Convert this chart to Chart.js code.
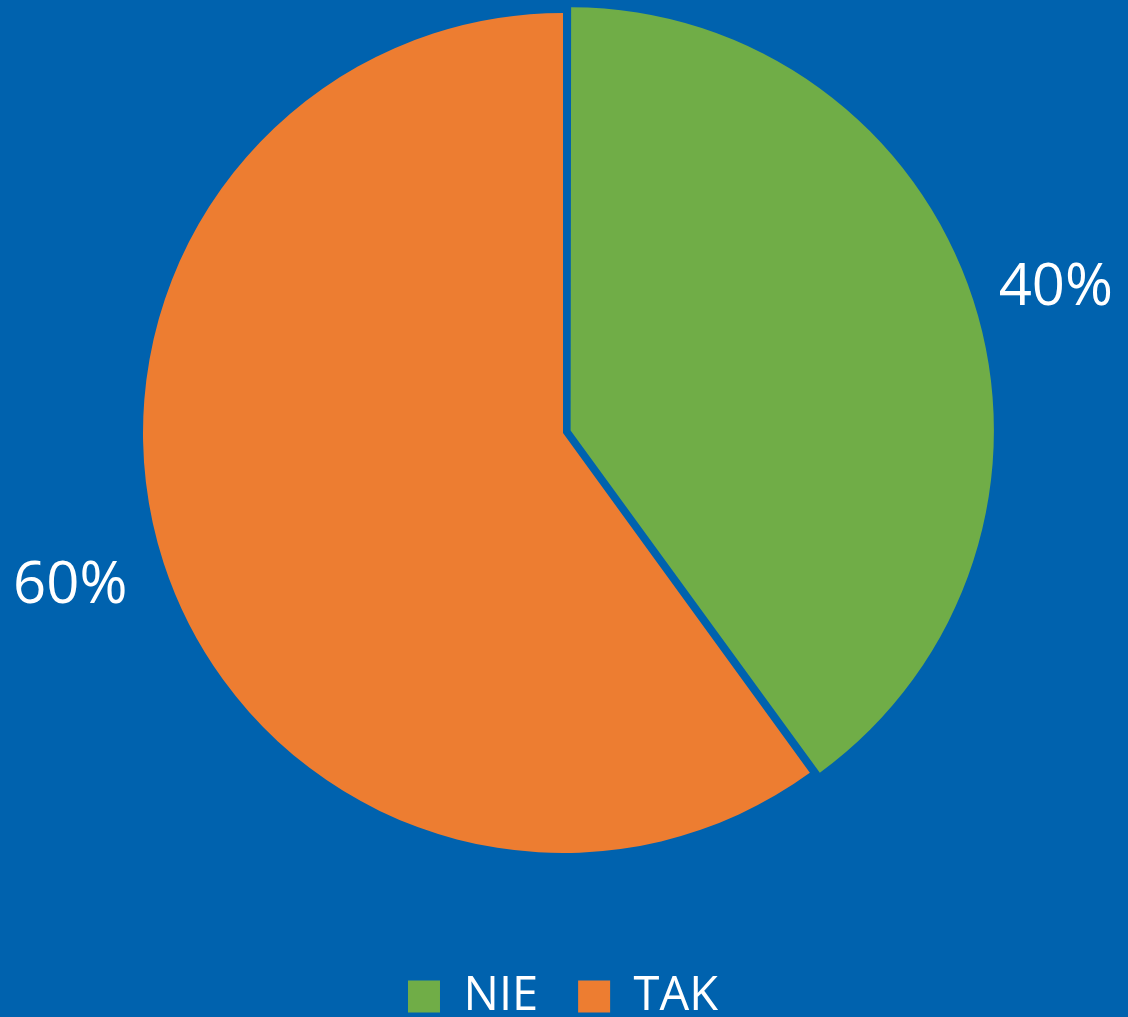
<!DOCTYPE html>
<html>
<head>
<meta charset="utf-8">
<script src="https://cdn.jsdelivr.net/npm/chart.js@4/dist/chart.umd.min.js"></script>
<style>
    html, body { margin: 0; padding: 0; background: #0062AE; overflow: hidden; }
    #chart { display: block; }
</style>
</head>
<body>
<canvas id="chart" width="1128" height="1017"></canvas>
<script>
const labels = ["NIE", "TAK"];
const values = [40, 60];
const colors = ["#70AD47", "#ED7D31"];

// percent labels drawn just outside each slice, box touching the bisector point
const outsideLabels = {
    id: "outsideLabels",
    afterDatasetsDraw(chart) {
        const ctx = chart.ctx;
        const meta = chart.getDatasetMeta(0);
        const total = values.reduce((a, b) => a + b, 0);
        ctx.save();
        ctx.fillStyle = "#FFFFFF";
        ctx.font = "58px 'Open Sans'";
        ctx.textAlign = "center";
        ctx.textBaseline = "alphabetic";
        meta.data.forEach((arc, i) => {
            const p = arc.getProps(["x", "y", "startAngle", "endAngle", "outerRadius"], true);
            const mid = (p.startAngle + p.endAngle) / 2;
            const r = p.outerRadius + 41;
            const text = Math.round(values[i] / total * 100) + "%";
            const m = ctx.measureText(text);
            const h = m.actualBoundingBoxAscent + m.actualBoundingBoxDescent;
            const cx = p.x + Math.cos(mid) * r + Math.cos(mid) * m.width / 2;
            const cy = p.y + Math.sin(mid) * r + Math.sin(mid) * h / 2;
            ctx.fillText(text, cx, cy + (m.actualBoundingBoxAscent - m.actualBoundingBoxDescent) / 2);
        });
        ctx.restore();
    }
};

new Chart(document.getElementById("chart"), {
    type: "pie",
    data: {
        labels: labels,
        datasets: [{
            data: values,
            backgroundColor: colors,
            borderWidth: 0,
            offset: [32, 0],
        }]
    },
    options: {
        responsive: false,
        animation: false,
        radius: 420,
        layout: {
            padding: { top: 0, right: 2, bottom: -13 }
        },
        plugins: {
            legend: {
                position: "bottom",
                title: {
                    display: true,
                    text: " ",
                    font: { size: 9, lineHeight: 1 },
                    padding: 29
                },
                labels: {
                    color: "#FFFFFF",
                    boxWidth: 32,
                    boxHeight: 32,
                    padding: 40,
                    font: { size: 47, family: "'Open Sans'" }
                }
            },
            tooltip: { enabled: false }
        }
    },
    plugins: [outsideLabels]
});
</script>
</body>
</html>
